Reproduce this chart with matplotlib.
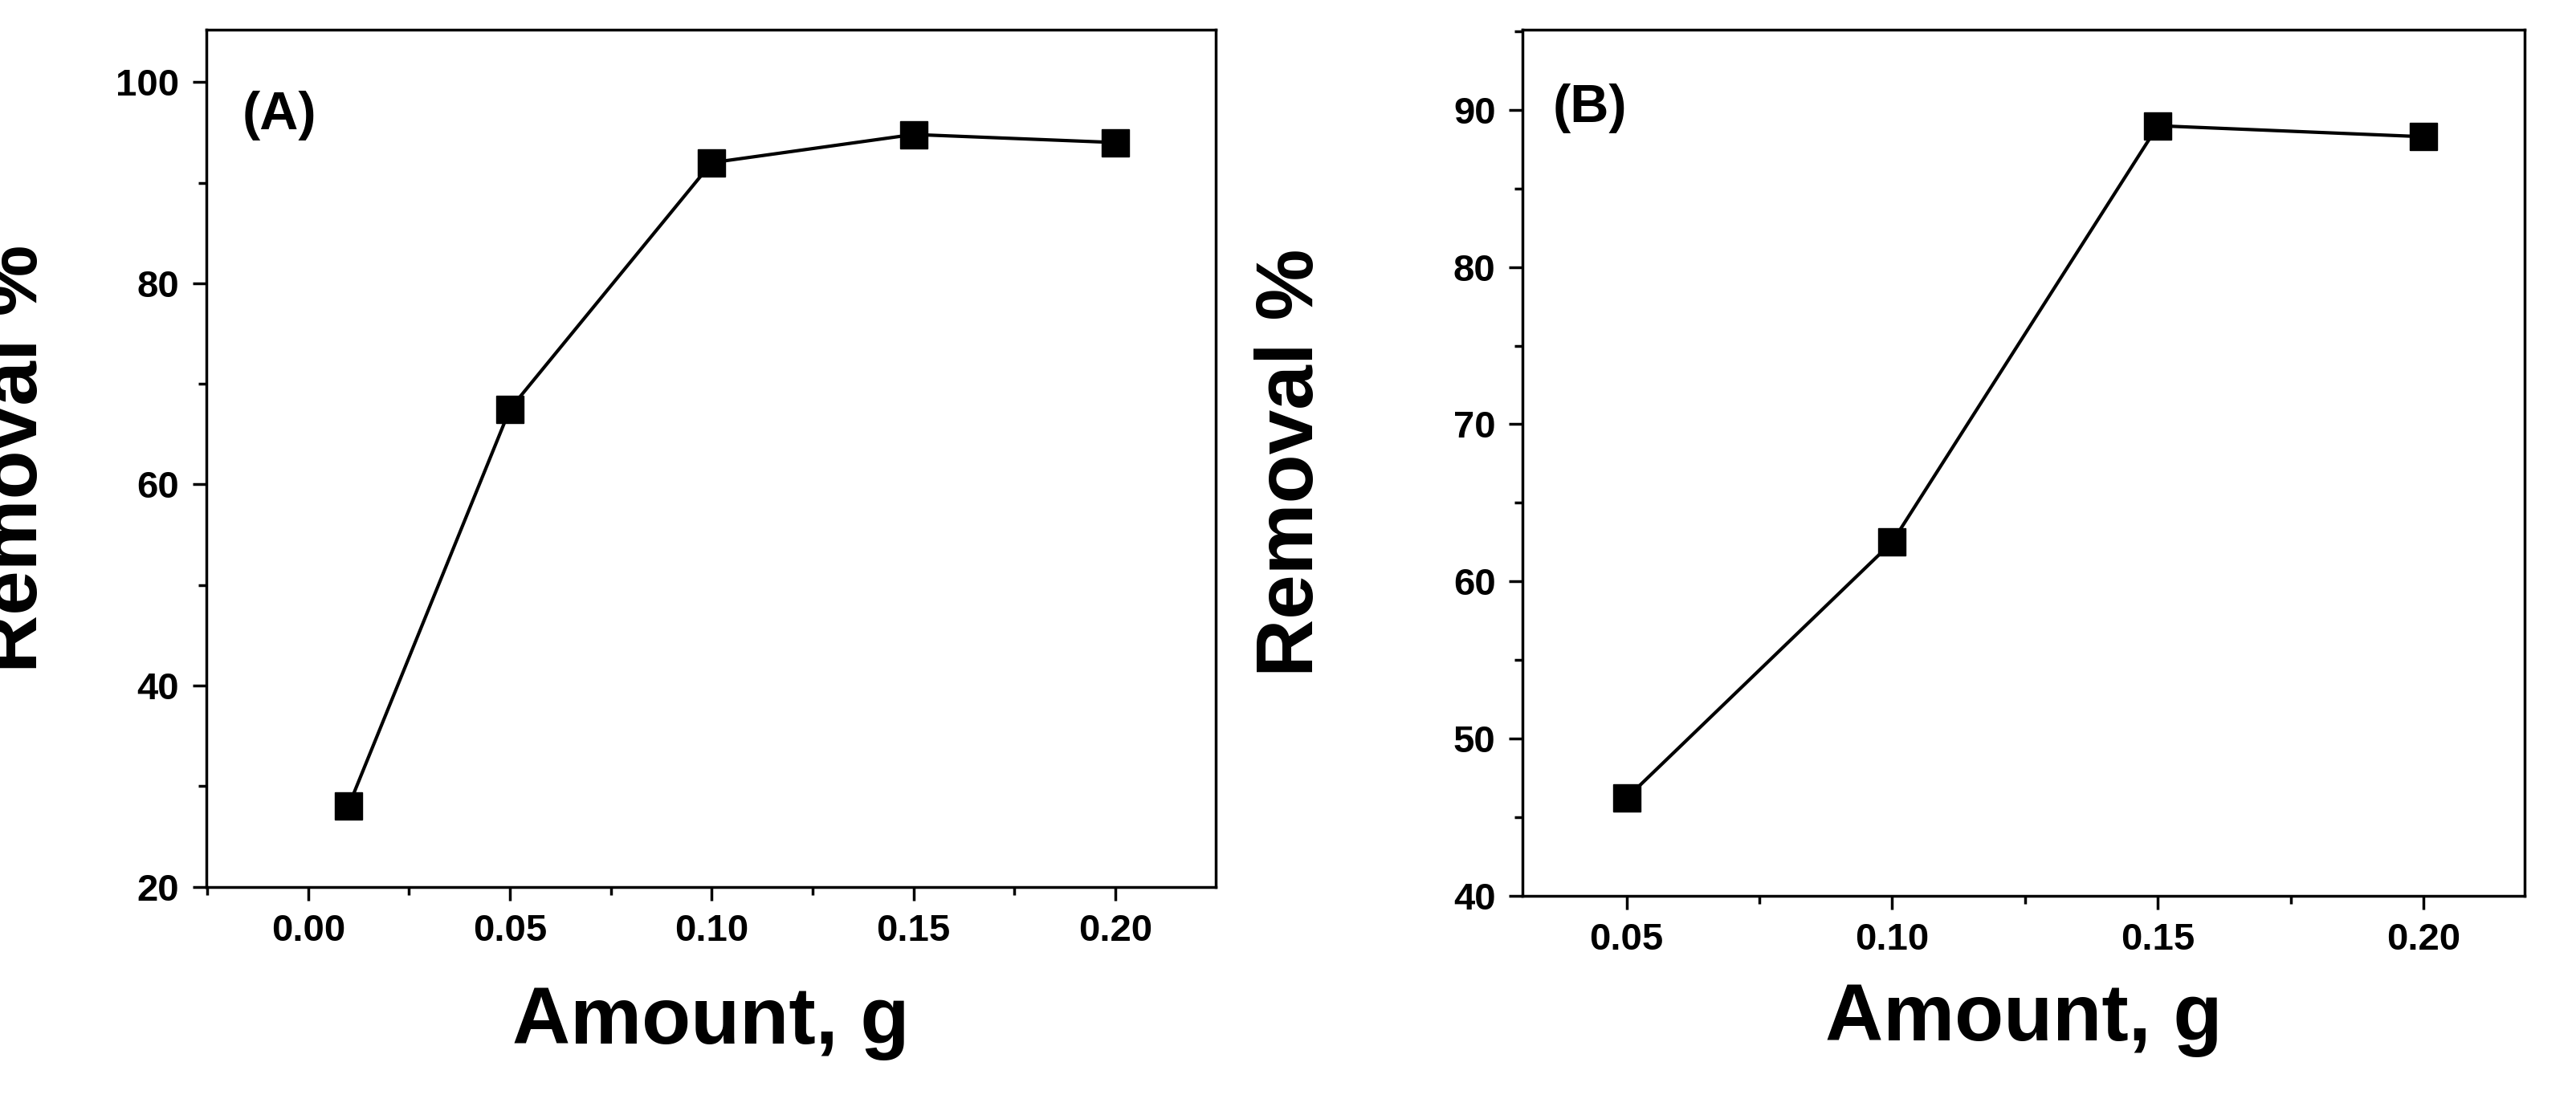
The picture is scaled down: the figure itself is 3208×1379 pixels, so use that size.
import matplotlib.pyplot as plt
from matplotlib.ticker import MultipleLocator, FormatStrFormatter

plt.rcParams['font.family'] = ['Liberation Sans', 'DejaVu Sans']
plt.rcParams['font.weight'] = 'bold'

# data
amount_a = [0.01, 0.05, 0.10, 0.15, 0.20]
removal_a = [28.0, 67.5, 92.0, 94.8, 94.0]
amount_b = [0.05, 0.10, 0.15, 0.20]
removal_b = [46.2, 62.5, 89.0, 88.3]

fig = plt.figure(figsize=(32.08, 13.79), dpi=100)
ax1 = fig.add_axes([0.080, 0.199, 0.392, 0.774])
ax2 = fig.add_axes([0.591, 0.191, 0.389, 0.782])

tick_font = ['Liberation Sans Narrow', 'Liberation Sans', 'DejaVu Sans']

def style(ax, x, y, lab, xlim, ylim, ymaj, xticks, xlab_y, ylab_x, lab_xy):
    ax.plot(x, y, color='black', lw=3, marker='s', ms=24)
    ax.set_xlim(*xlim)
    ax.set_ylim(*ylim)
    ax.set_xticks(xticks)
    ax.xaxis.set_minor_locator(MultipleLocator(0.025))
    ax.yaxis.set_major_locator(MultipleLocator(ymaj))
    ax.yaxis.set_minor_locator(MultipleLocator(ymaj / 2))
    ax.xaxis.set_major_formatter(FormatStrFormatter('%.2f'))
    ax.tick_params(which='major', length=12, width=2.5, labelsize=34, pad=12)
    ax.tick_params(which='minor', length=7, width=2.5)
    for lbl in ax.get_xticklabels() + ax.get_yticklabels():
        lbl.set_fontweight('bold')
        lbl.set_family(tick_font)
    for s in ax.spines.values():
        s.set_linewidth(2.5)
    ax.set_xlabel('Amount, g', fontsize=72, fontweight='bold')
    ax.set_ylabel('Removal %', fontsize=72, fontweight='bold')
    ax.xaxis.set_label_coords(0.5, xlab_y)
    ax.yaxis.set_label_coords(ylab_x, 0.5)
    ax.text(lab_xy[0], lab_xy[1], lab, transform=ax.transAxes, fontsize=48,
            fontweight='bold', va='center')

style(ax1, amount_a, removal_a, '(A)', (-0.0253, 0.2249), (20, 105.2), 20,
      [0.00, 0.05, 0.10, 0.15, 0.20], -0.115, -0.151, (0.036, 0.90))
style(ax2, amount_b, removal_b, '(B)', (0.0304, 0.219), (40, 95.1), 10,
      [0.05, 0.10, 0.15, 0.20], -0.10, -0.192, (0.03, 0.909))

fig.savefig('out.png', dpi=100)
